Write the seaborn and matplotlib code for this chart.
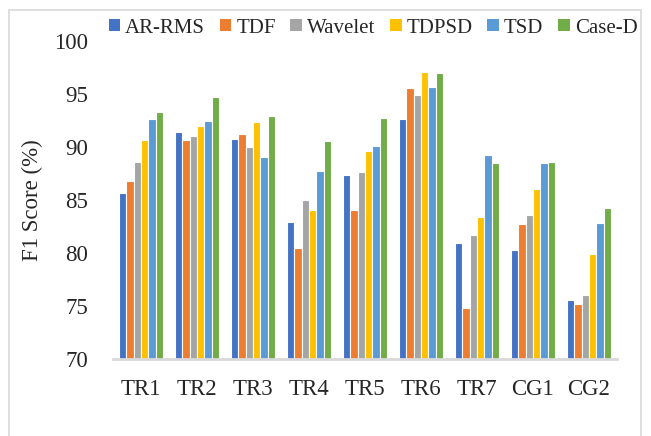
import matplotlib
matplotlib.use("Agg")
import matplotlib.pyplot as plt
import seaborn as sns
import pandas as pd
from matplotlib.patches import Rectangle

categories = ["TR1", "TR2", "TR3", "TR4", "TR5", "TR6", "TR7", "CG1", "CG2"]
methods = ["AR-RMS", "TDF", "Wavelet", "TDPSD", "TSD", "Case-D"]
ar_rms  = [85.6, 91.4, 90.7, 82.9, 87.3, 92.6, 80.9, 80.25, 75.5]
tdf     = [86.8, 90.65, 91.2, 80.4, 84.0, 95.6, 74.8, 82.7, 75.15]
wavelet = [88.6, 91.0, 90.0, 85.0, 87.6, 94.9, 81.7, 83.6, 76.0]
tdpsd   = [90.65, 92.0, 92.35, 84.0, 89.6, 97.1, 83.4, 86.0, 79.85]
tsd     = [92.6, 92.4, 89.0, 87.7, 90.1, 95.7, 89.2, 88.45, 82.8]
case_d  = [93.3, 94.7, 92.9, 90.55, 92.7, 97.0, 88.5, 88.6, 84.25]
colors = ["#4472C4", "#ED7D31", "#A5A5A5", "#FFC000", "#5B9BD5", "#70AD47"]
yticks = [70, 75, 80, 85, 90, 95, 100]

series = [ar_rms, tdf, wavelet, tdpsd, tsd, case_d]
rows = []
for m, vals in zip(methods, series):
    for c, v in zip(categories, vals):
        rows.append({"cat": c, "method": m, "val": v})
df = pd.DataFrame(rows)

sns.set_style("white")
plt.rcParams["font.family"] = ["Liberation Serif", "DejaVu Serif"]

fig = plt.figure(figsize=(6.51, 4.36), dpi=100)
ax = fig.add_axes([113/651, 1-358.5/436, (617-113)/651, (358.5-41)/436])

sns.barplot(data=df, x="cat", y="val", hue="method", order=categories,
            hue_order=methods, palette=colors, width=0.78, saturation=1,
            edgecolor="white", linewidth=0.8, ax=ax, legend=True)

ax.set_ylim(70, 100)
ax.set_yticks(yticks)
ax.set_yticklabels([str(t) for t in yticks], fontsize=16.5)
ax.set_xlabel("")
ax.set_ylabel("F1 Score (%)", fontsize=16.5, labelpad=8)
ax.tick_params(axis="both", length=0, labelsize=16.5)
ax.tick_params(axis="y", pad=18)
ax.tick_params(axis="x", pad=15)
for s in ["left", "right", "top"]:
    ax.spines[s].set_visible(False)
ax.spines["bottom"].set_color("#D9D9D9")
ax.spines["bottom"].set_linewidth(2)
ax.grid(False)

ax.legend_.remove()
handles = [Rectangle((0, 0), 1, 1, facecolor=c, edgecolor="none") for c in colors]
fig.legend(handles, methods, loc="center", bbox_to_anchor=(373/651, 1-28/436),
           ncol=6, frameon=False, fontsize=15, handlelength=0.55, handleheight=0.55,
           handletextpad=0.25, columnspacing=0.7, borderaxespad=0, borderpad=0)

fig.patches.append(Rectangle((9/651, -0.2), (641-9)/651, 1.2 - 10/436,
                             transform=fig.transFigure, fill=False,
                             edgecolor="#D9D9D9", linewidth=1.2))

fig.savefig("out.png", dpi=100)
